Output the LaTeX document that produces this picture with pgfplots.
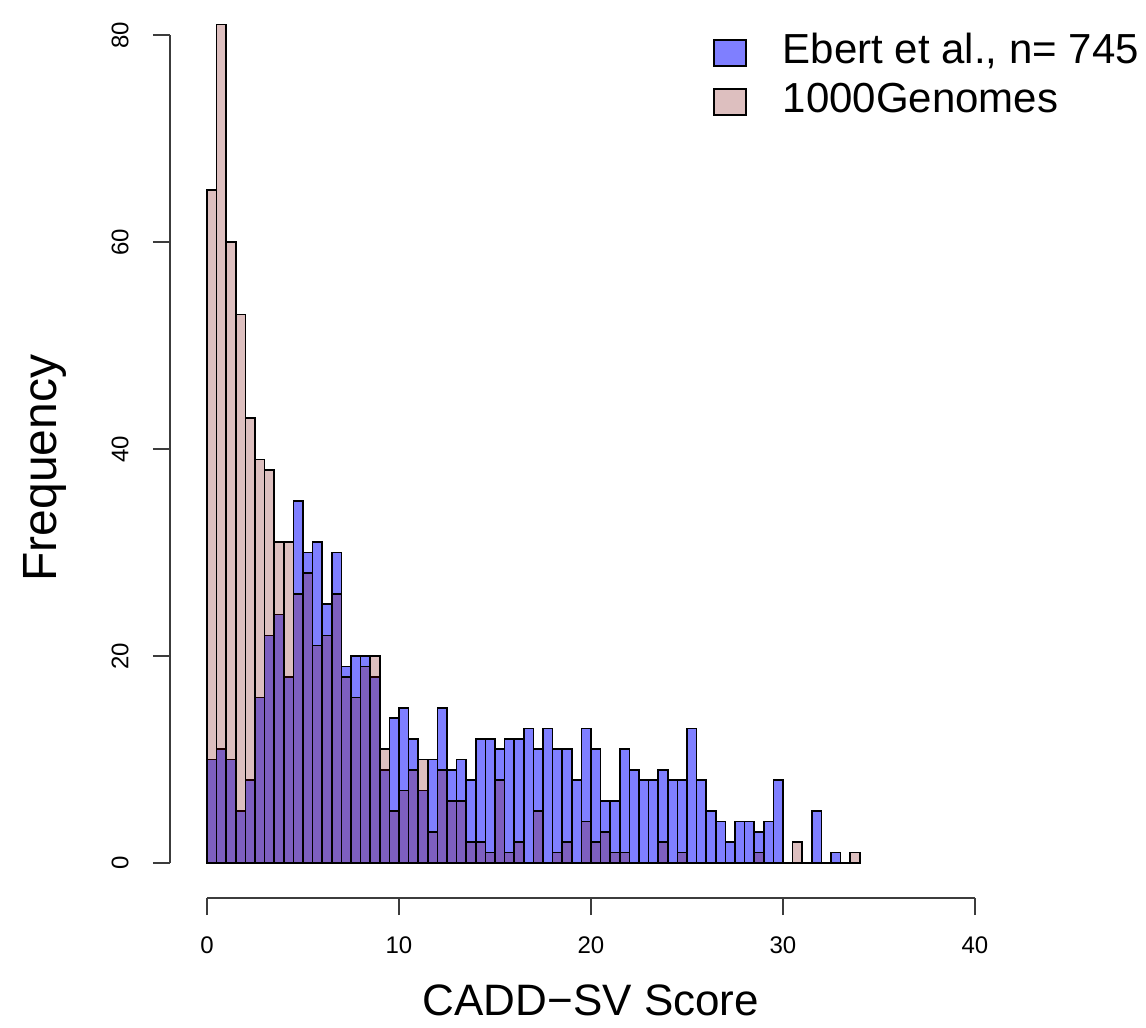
\documentclass[border=0pt]{standalone}
\usepackage{fontspec}
\setmainfont{Liberation Sans}
\usepackage{pgfplots}
\pgfplotsset{compat=1.18}
\usepackage{pgfplotstable}

\definecolor{ebertblue}{RGB}{0,0,255}
\definecolor{kgred}{RGB}{120,0,0}
\definecolor{axisgray}{RGB}{60,60,60}

% CADD-SV score histograms, bins of width 0.5 (x = bin centre, y = count)
\pgfplotstableread{
x y
0.25 10
0.75 11
1.25 10
1.75 5
2.25 8
2.75 16
3.25 22
3.75 24
4.25 18
4.75 35
5.25 30
5.75 31
6.25 25
6.75 30
7.25 19
7.75 20
8.25 20
8.75 18
9.25 9
9.75 14
10.25 15
10.75 12
11.25 7
11.75 10
12.25 15
12.75 9
13.25 10
13.75 8
14.25 12
14.75 12
15.25 11
15.75 12
16.25 12
16.75 13
17.25 11
17.75 13
18.25 11
18.75 11
19.25 8
19.75 13
20.25 11
20.75 6
21.25 6
21.75 11
22.25 9
22.75 8
23.25 8
23.75 9
24.25 8
24.75 8
25.25 13
25.75 8
26.25 5
26.75 4
27.25 2
27.75 4
28.25 4
28.75 3
29.25 4
29.75 8
30.25 0
30.75 0
31.25 0
31.75 5
32.25 0
32.75 1
}\ebert

\pgfplotstableread{
x y
0.25 65
0.75 81
1.25 60
1.75 53
2.25 43
2.75 39
3.25 38
3.75 31
4.25 31
4.75 26
5.25 28
5.75 21
6.25 22
6.75 26
7.25 18
7.75 16
8.25 19
8.75 20
9.25 11
9.75 5
10.25 7
10.75 9
11.25 10
11.75 3
12.25 9
12.75 6
13.25 6
13.75 2
14.25 2
14.75 1
15.25 8
15.75 1
16.25 2
16.75 0
17.25 5
17.75 0
18.25 1
18.75 2
19.25 0
19.75 4
20.25 2
20.75 3
21.25 1
21.75 1
22.25 0
22.75 0
23.25 0
23.75 2
24.25 0
24.75 1
25.25 0
25.75 0
26.25 0
26.75 0
27.25 0
27.75 0
28.25 0
28.75 1
29.25 0
29.75 0
30.25 0
30.75 2
31.25 0
31.75 0
32.25 0
32.75 0
33.25 0
33.75 1
}\genomes

\begin{document}
\begin{tikzpicture}
\useasboundingbox (0,0) rectangle (573pt,514pt);
\begin{axis}[
  at={(103.5pt,82.5pt)}, anchor=south west,
  scale only axis, width=384pt, height=414pt,
  xmin=0, xmax=40, ymin=0, ymax=80,
  clip=false,
  axis lines=left,
  axis line style={-, line width=1pt, axisgray},
  axis x line shift=17.5pt,
  axis y line shift=18.5pt,
  xtick={0,10,20,30,40},
  ytick={0,20,40,60,80},
  tick align=outside,
  major tick length=8.5pt,
  tick style={line width=1pt, axisgray},
  /pgf/number format/assume math mode=true,
  tick label style={font=\fontsize{12}{14}\selectfont, inner sep=0pt},
  xticklabel style={anchor=north, yshift=-10.5pt},
  yticklabel style={rotate=90, anchor=south, yshift=12pt},
  xlabel={CADD−SV Score},
  ylabel={Frequency},
  xlabel style={font=\fontsize{22}{26}\selectfont,
    at={(axis description cs:0.5,-0.1655)}, anchor=center},
  ylabel style={font=\fontsize{24}{28}\selectfont,
    at={(axis description cs:-0.211,0.477)}, anchor=center},
  legend cell align=left,
  legend style={at={(0.658,0.949)}, anchor=west, draw=none, fill=none,
    inner sep=0pt, row sep=5.5pt,
    font=\fontsize{21}{25}\selectfont,
    nodes={inner sep=0pt, text height=15pt, text depth=4pt},
    /tikz/column sep=0pt},
  legend image code/.code={
    \draw[#1, line width=1pt] (0pt,-6.5pt) rectangle (16pt,6.5pt);
    \path[draw=none, fill=none] (0pt,0pt) -- (34.5pt,0pt);
  },
]
\addplot[ybar, bar width=0.5, bar shift=0pt, draw=black, line width=0.8pt,
  fill=ebertblue, fill opacity=0.5] table[x=x, y=y] {\ebert};
\addlegendentry{Ebert et al., n= 745}
\addplot[ybar, bar width=0.5, bar shift=0pt, draw=black, line width=0.8pt,
  fill=kgred, fill opacity=0.25] table[x=x, y=y] {\genomes};
\addlegendentry{1000Genomes}
\end{axis}
\end{tikzpicture}
\end{document}
